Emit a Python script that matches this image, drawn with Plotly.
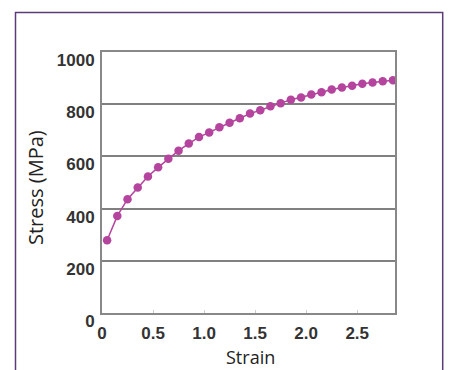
import plotly.graph_objects as go

strain = [0.05, 0.15, 0.25, 0.35, 0.45, 0.55, 0.65, 0.75, 0.85, 0.95,
          1.05, 1.15, 1.25, 1.35, 1.45, 1.55, 1.65, 1.75, 1.85, 1.95,
          2.05, 2.15, 2.25, 2.35, 2.45, 2.55, 2.65, 2.75, 2.85]
stress = [279, 372, 436, 481, 523, 558, 591, 622, 649, 674,
          692, 712, 729, 746, 764, 777, 792, 804, 817, 826,
          837, 846, 856, 864, 871, 878, 883, 888, 892]
x_ticks = [0, 0.5, 1.0, 1.5, 2.0, 2.5]
x_tick_text = ["0", "0.5", "1.0", "1.5", "2.0", "2.5"]
y_ticks = [0, 200, 400, 600, 800, 1000]
y_tick_text = ["0", "200", "400", "600", "800", "1000"]

W, H = 449, 370
ML, MR, MT, MB = 102, 54, 52, 57
PW, PH = W - ML - MR, H - MT - MB

def px(x):
    return (x - ML) / PW

def py(y):
    return (H - MB - y) / PH

color = "#b4449e"
fig = go.Figure(go.Scatter(
    x=strain, y=stress, mode="lines+markers",
    line=dict(color=color, width=1.5),
    marker=dict(color=color, size=8.5),
    showlegend=False, hoverinfo="skip"))

tickfont = dict(family="Liberation Sans, Arial", size=17, color="#333333", weight="bold")
fig.update_layout(
    width=W, height=H,
    margin=dict(l=ML, r=MR, t=MT, b=MB),
    paper_bgcolor="white", plot_bgcolor="white",
    xaxis=dict(range=[0, 2.87], tickvals=x_ticks, ticktext=x_tick_text,
               showgrid=False, zeroline=False, showline=True, mirror=True,
               linecolor="#888888", linewidth=2, ticks="inside", ticklen=3,
               tickcolor="#cccccc", tickfont=tickfont, ticklabelstandoff=4,
               fixedrange=True),
    yaxis=dict(range=[0, 1000], tickvals=y_ticks, ticktext=y_tick_text,
               showgrid=True, gridcolor="#808080", gridwidth=2, zeroline=False,
               showline=True, mirror=True, linecolor="#888888", linewidth=2,
               ticks="", tickfont=tickfont, ticklabelstandoff=2,
               ticklabelshift=8, fixedrange=True),
    shapes=[dict(type="path", xref="paper", yref="paper",
                 path=f"M {px(15.5)} -0.5 L {px(15.5)} {py(12.5)} L {px(442.7)} {py(12.5)} L {px(442.7)} -0.5",
                 line=dict(color="#5b3b78", width=1.5))],
    annotations=[
        dict(text="Stress (MPa)", textangle=-90, xref="paper", yref="paper",
             x=px(35), y=py(188), xanchor="center", yanchor="middle", showarrow=False,
             font=dict(family="Open Sans", size=20, color="#222222")),
        dict(text="Strain", xref="paper", yref="paper", borderpad=0,
             x=px(250), y=py(370), xanchor="center", yanchor="bottom", showarrow=False,
             font=dict(family="Open Sans", size=18, color="#222222")),
    ],
)
fig.write_html("out.html")
